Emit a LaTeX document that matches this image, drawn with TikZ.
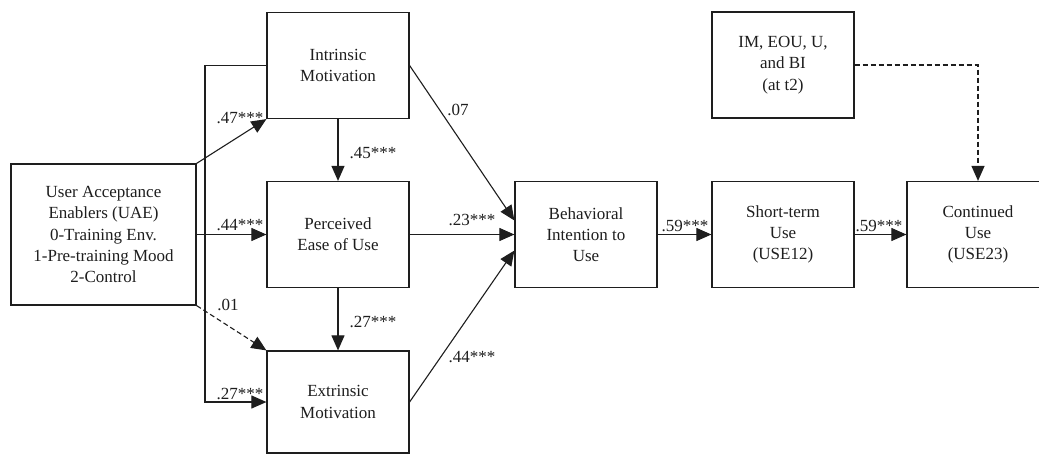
\documentclass[tikz,border=0pt]{standalone}
\usepackage{fontspec}
\setmainfont{Liberation Serif}
\usetikzlibrary{arrows.meta}
\definecolor{ink}{RGB}{30,30,30}
\begin{document}
\begin{tikzpicture}[x=1pt,y=-1pt,
  box/.style={draw=ink, line width=1.2pt, minimum width=142pt, minimum height=106pt,
              align=center, inner sep=0pt, text=ink, font=\fontsize{17}{21.3}\selectfont},
  link/.style={draw=ink, line width=1.1pt, -{Triangle[length=15pt,width=13pt]}},
  weak/.style={link, dash pattern=on 5pt off 3pt},
  coef/.style={inner sep=0pt, text=ink, font=\fontsize{17}{20}\selectfont}]
\useasboundingbox (0,0) rectangle (1039,455);
\fill[white] (0,0) rectangle (1039,455);
\clip (0,0) rectangle (1039,455);

% constructs
\node[box, minimum width=185pt, minimum height=141pt] (uae) at (103.5,234.5)
  {User Acceptance\\Enablers (UAE)\\0-Training Env.\\1-Pre-training Mood\\2-Control};
\node[box] (im)   at (338,65.5)  {Intrinsic\\Motivation};
\node[box] (peou) at (338,234.5) {Perceived\\Ease of Use};
\node[box, minimum height=102pt] (em) at (338,402) {Extrinsic\\Motivation};
\node[box] (bi)   at (586,234.5) {Behavioral\\Intention to\\Use};
\node[box] (st)   at (783,234.5) {Short-term\\Use\\(USE12)};
\node[box] (t2)   at (783,65)    {IM, EOU, U,\\and BI\\(at t2)};
\node[box] (cu)   at (978,234.5) {Continued\\Use\\(USE23)};

% paths from the enablers
\coordinate (fork) at (205,234.5);
\draw[link] (uae.north east) -- (im.south west);
\draw[link] (uae.east) -- (peou.west);
\draw[weak] (uae.south east) -- (em.north west);
\draw[link] (im.west) -| (fork) |- (em.west);

% paths among the beliefs
\draw[link] (im.south) -- (peou.north);
\draw[link] (peou.south) -- (em.north);

% paths to intention and use
\draw[link] (im.east) -- ([yshift=14pt]bi.west);
\draw[link] (peou.east) -- (bi.west);
\draw[link] (em.east) -- ([yshift=-16pt]bi.west);
\draw[link] (bi.east) -- (st.west);
\draw[link] (st.east) -- (cu.west);
\draw[weak] (t2.east) -| (cu.north);

% path coefficients
\node[coef] (c1)  at (240,118) {.47***};
\node[coef] (c2)  at (240,225) {.44***};
\node[coef] (c3)  at (228,305) {.01};
\node[coef] (c4)  at (240,394) {.27***};
\node[coef] (c5)  at (373,153) {.45***};
\node[coef] (c6)  at (373,322) {.27***};
\node[coef] (c7)  at (458,110) {.07};
\node[coef] (c8)  at (472,220) {.23***};
\node[coef] (c9)  at (472,357) {.44***};
\node[coef] (c10) at (685,226) {.59***};
\node[coef] (c11) at (879,226) {.59***};
\end{tikzpicture}
\end{document}
